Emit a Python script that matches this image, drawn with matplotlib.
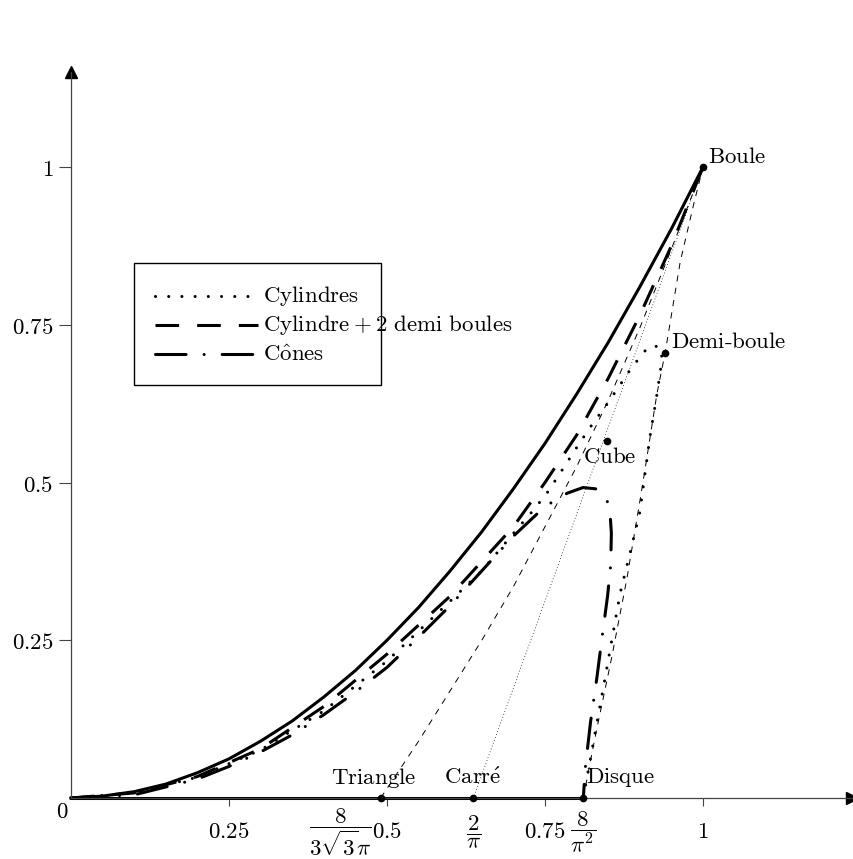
import numpy as np
import matplotlib
matplotlib.use("Agg")
import matplotlib.pyplot as plt
from matplotlib.patches import Rectangle

plt.rcParams['mathtext.fontset'] = 'cm'
plt.rcParams['lines.scale_dashes'] = False

# borne superieure (trait plein)
upper_x = [0, 0.05, 0.1, 0.15, 0.2, 0.25, 0.3, 0.35, 0.4, 0.45, 0.5,
           0.55, 0.6, 0.65, 0.7, 0.75, 0.8, 0.85, 0.9, 0.95, 1.0]
upper_y = [0, 0.003, 0.01, 0.022, 0.04, 0.062, 0.09, 0.122, 0.16, 0.202, 0.25,
           0.302, 0.36, 0.422, 0.49, 0.562, 0.64, 0.722, 0.81, 0.902, 1.0]

# borne inferieure (axe des x jusqu'au disque)
lower_x = [0, 0.8106]
lower_y = [0, 0]

# cylindres
cyl_x = [0.8106, 0.826, 0.845, 0.869, 0.885, 0.900, 0.916, 0.927, 0.933, 0.935,
         0.930, 0.913, 0.902, 0.889, 0.869, 0.848, 0.826, 0.805, 0.774, 0.753,
         0.729, 0.715, 0.65, 0.6, 0.5, 0.4, 0.3, 0.2, 0.1, 0]
cyl_y = [0, 0.085, 0.19, 0.325, 0.39, 0.453, 0.572, 0.639, 0.68, 0.705,
         0.716, 0.715, 0.70, 0.685, 0.655, 0.624, 0.594, 0.563, 0.515, 0.483,
         0.453, 0.437, 0.36, 0.312, 0.217, 0.138, 0.076, 0.033, 0.008, 0]

# cylindre + 2 demi boules
caps_x = [0, 0.1, 0.2, 0.3, 0.4, 0.5, 0.6, 0.7, 0.75, 0.8, 0.85, 0.9, 0.95, 1.0]
caps_y = [0, 0.008, 0.034, 0.078, 0.145, 0.228, 0.32, 0.43, 0.5, 0.575, 0.665, 0.765, 0.875, 1.0]

# cones
cone_x = [0, 0.1, 0.2, 0.25, 0.3, 0.35, 0.4, 0.45, 0.5, 0.55, 0.6, 0.65, 0.7, 0.75,
          0.785, 0.81, 0.83, 0.847, 0.853, 0.855, 0.854, 0.849, 0.841, 0.832,
          0.822, 0.814, 0.8106]
cone_y = [0, 0.005, 0.03, 0.05, 0.073, 0.1, 0.132, 0.168, 0.207, 0.255, 0.305, 0.36,
          0.415, 0.462, 0.483, 0.492, 0.49, 0.477, 0.45, 0.42, 0.37, 0.32, 0.26,
          0.19, 0.12, 0.05, 0]

# familles fines
tri_x = [0.49, 0.55, 0.6, 0.65, 0.7, 0.75, 0.8, 0.85, 0.9, 0.95, 1.0]
tri_y = [0, 0.09, 0.17, 0.25, 0.335, 0.43, 0.525, 0.63, 0.745, 0.87, 1.0]

carre_x = [0.6366, 1.0]
carre_y = [0, 1.0]

calotte_x = [0.8106, 0.83, 0.855, 0.88, 0.905, 0.927, 0.94, 0.964, 0.985, 1.0]
calotte_y = [0, 0.1, 0.22, 0.35, 0.5, 0.64, 0.705, 0.85, 0.94, 1.0]

# points remarquables
pt_names = ['Boule', 'Demi-boule', 'Cube', 'Triangle', 'Carré', 'Disque']
pt_x = [1.0, 0.94, 0.848, 0.49, 0.6366, 0.8106]
pt_y = [1.0, 0.705, 0.566, 0, 0, 0]

yticks = [0.25, 0.5, 0.75, 1]
ytick_labels = ['0.25', '0.5', '0.75', '1']
xticks = [0.25, 0.5, 0.75, 1]
xtick_labels = ['0.25', '0.5', '0.75', '1']

FS = 16.5
thick = 2.2


def rm(s):
    s = s.replace(' + ', r'\:+\:').replace(' ', r'\ ').replace('-', r'\text{-}')
    s = s.replace('é', r'\acute{e}').replace('ô', r'\hat{o}')
    return r'$\mathrm{' + s + '}$'


def main():
    fig = plt.figure(figsize=(8.54, 8.59), dpi=100)
    ax = fig.add_axes([0, 0, 1, 1])
    ax.set_xlim(-0.1123, 1.2389)
    ax.set_ylim(-0.0967, 1.2647)

    for s in ['top', 'right']:
        ax.spines[s].set_visible(False)
    ax.spines['left'].set_position(('data', 0))
    ax.spines['bottom'].set_position(('data', 0))
    ax.spines['left'].set_bounds(0, 1.15)
    ax.spines['bottom'].set_bounds(0, 1.235)
    for s in ['left', 'bottom']:
        ax.spines[s].set_color('#444444')
        ax.spines[s].set_linewidth(0.9)
    ax.plot(1.235, 0, '>', color='black', ms=8, clip_on=False)
    ax.plot(0, 1.15, '^', color='black', ms=8, clip_on=False)

    ax.set_xticks(xticks, [rm(t) for t in xtick_labels])
    ax.set_yticks(yticks, [rm(t) for t in ytick_labels])
    ax.tick_params(axis='x', direction='out', length=6, pad=10, labelsize=FS, color='#444444')
    ax.tick_params(axis='y', direction='out', length=8.6, pad=4, labelsize=FS, color='#444444')
    ax.text(-0.014, -0.021, rm('0'), fontsize=FS, ha='center', va='center')

    ax.text(0.426, -0.054, r'$\dfrac{8}{3\sqrt{3}\pi}$', fontsize=FS, ha='center', va='center')
    ax.text(0.6366, -0.054, r'$\dfrac{2}{\pi}$', fontsize=FS, ha='center', va='center')
    ax.text(0.8106, -0.054, r'$\dfrac{8}{\pi^2}$', fontsize=FS, ha='center', va='center')

    # familles fines
    ax.plot(tri_x, tri_y, color='black', lw=0.7, linestyle=(0, (4.5, 4.5)))
    ax.plot(calotte_x, calotte_y, color='black', lw=0.7, linestyle=(0, (4.5, 4.5)))
    ax.plot(carre_x, carre_y, color='black', lw=0.7, linestyle=(0, (0.01, 2.2)),
            dash_capstyle='round')

    # familles principales
    ax.plot(upper_x, upper_y, color='black', lw=thick)
    ax.plot(lower_x, lower_y, color='black', lw=thick, clip_on=False)
    dotted = dict(color='black', lw=thick, linestyle=(0, (0.01, 9.5)), dash_capstyle='round')
    dashed = dict(color='black', lw=thick, linestyle=(0, (17, 13)))
    dashdot = dict(color='black', lw=thick, linestyle=(0, (22, 13, 0.01, 13)), dash_capstyle='round')
    ax.plot(cyl_x, cyl_y, **dotted)
    ax.plot(caps_x, caps_y, **dashed)
    ax.plot(cone_x, cone_y, **dashdot)

    # points
    ax.plot(pt_x, pt_y, 'o', color='black', ms=4.5, zorder=5, clip_on=False)
    ax.text(1.008, 1.017, rm('Boule'), fontsize=FS, ha='left', va='center')
    ax.text(0.949, 0.7227, rm('Demi-boule'), fontsize=FS, ha='left', va='center')
    ax.text(0.853, 0.542, rm('Cube'), fontsize=FS, ha='center', va='center')
    ax.text(0.479, 0.032, rm('Triangle'), fontsize=FS, ha='center', va='center')
    ax.text(0.636, 0.032, rm('Carré'), fontsize=FS, ha='center', va='center')
    ax.text(0.815, 0.032, rm('Disque'), fontsize=FS, ha='left', va='center')

    # legende
    ax.add_patch(Rectangle((0.0997, 0.6545), 0.3908, 0.1935, fill=False,
                           edgecolor='black', lw=1.0))
    rows = [(0.7956, dotted, 'Cylindres'),
            (0.7496, dashed, 'Cylindre + 2 demi boules'),
            (0.7036, dashdot, 'Cônes')]
    for y, style, label in rows:
        ax.plot([0.133, 0.296], [y, y], **style)
        ax.text(0.304, y, rm(label), fontsize=FS, ha='left', va='center')

    fig.savefig('out.png', dpi=100)


main()
